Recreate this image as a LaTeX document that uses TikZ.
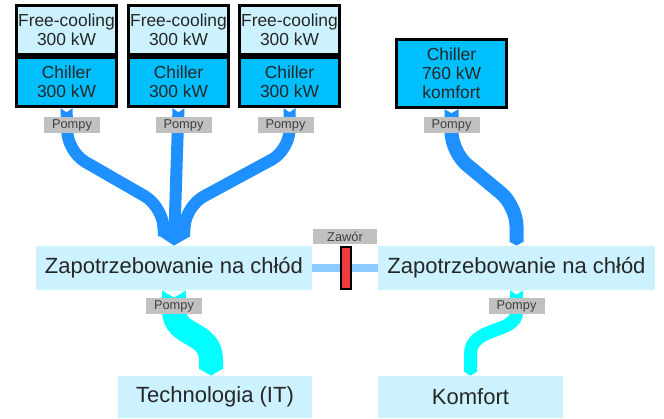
\documentclass[tikz,border=0pt]{standalone}
\usepackage{fontspec}
\setmainfont{Liberation Sans}
\usetikzlibrary{arrows.meta,backgrounds}
\definecolor{coolpale}{RGB}{204,242,255}
\definecolor{chillblue}{RGB}{0,191,255}
\definecolor{pipeblue}{RGB}{30,144,255}
\definecolor{pipecyan}{RGB}{0,255,255}
\definecolor{linkblue}{RGB}{140,202,255}
\definecolor{pompgray}{RGB}{192,192,192}
\definecolor{valvered}{RGB}{235,60,60}

\begin{document}
\begin{tikzpicture}[x=0.5pt,y=-0.5pt,
    fcbox/.style={draw, line width=1.5pt, fill=coolpale, minimum width=50pt, minimum height=24.5pt,
                  inner sep=0pt, align=center, text=black!85, font=\fontsize{8.7}{9.6}\selectfont},
    chbox/.style={fcbox, fill=chillblue},
    pompy/.style={fill=pompgray, minimum width=28pt, minimum height=8pt, inner sep=0pt,
                  text=black!75, font=\fontsize{6.4}{7}\selectfont},
    demand/.style={fill=coolpale, minimum height=22pt, inner sep=0pt, text=black!85,
                   font=\fontsize{11}{12}\selectfont},
    pipe/.style={line width=6pt, pipeblue, rounded corners=10pt},
    flow/.style={pipecyan, line width=12pt}]
  \useasboundingbox (0,0) rectangle (664,418);

  % chillers
  \node[fcbox] (fc1) at (66.5,30) {Free-cooling\\300 kW};
  \node[chbox] (ch1) at (66.5,82) {Chiller\\300 kW};
  \node[fcbox] (fc2) at (178.5,30) {Free-cooling\\300 kW};
  \node[chbox] (ch2) at (178.5,82) {Chiller\\300 kW};
  \node[fcbox] (fc3) at (289.5,30) {Free-cooling\\300 kW};
  \node[chbox] (ch3) at (289.5,82) {Chiller\\300 kW};
  \node[chbox, minimum width=55pt, minimum height=34pt] (chk) at (451.5,73.5) {Chiller\\760 kW\\komfort};

  % pumps
  \node[pompy] (p1) at (72,125) {Pompy};
  \node[pompy] (p2) at (183.5,125) {Pompy};
  \node[pompy] (p3) at (285.5,125) {Pompy};
  \node[pompy] (p4) at (451.5,125) {Pompy};
  \node[pompy] (p5) at (174,306) {Pompy};
  \node[pompy] (p6) at (516.5,306) {Pompy};

  % demand
  \node[demand, minimum width=138pt] (dem1) at (174,268) {Zapotrzebowanie na chłód};
  \node[demand, minimum width=138.5pt] (dem2) at (516.5,268) {Zapotrzebowanie na chłód};
  \node[pompy, minimum width=32pt, minimum height=7.5pt] (zaw) at (345,236.5) {Zawór};
  \node[draw, line width=1pt, fill=valvered, minimum width=5pt, minimum height=21pt, inner sep=0pt] (valve) at (346,268) {};
  \node[demand, minimum width=97pt, minimum height=21pt] (tech) at (215,397) {Technologia (IT)};
  \node[demand, minimum width=92.5pt, minimum height=21pt] (komf) at (470.5,397) {Komfort};

  \begin{pgfonlayer}{background}
    \draw[pipe] (ch1.south) -- (68,152) -- (162,206) -- (164,236);
    \draw[pipe] (ch3.south) -- (289.5,150) -- (186,206) -- (184,236);
    \draw[pipe, -{Triangle[width=16pt,length=5pt]}] (ch2.south) -- (dem1.north);
    \draw[pipe, line width=7pt, -{Triangle[width=7pt,length=2pt]}] (chk.south) -- (451.5,152) -- (516.5,206) -- (dem2.north);
    \draw[linkblue, line width=4pt] (dem1.east) -- (dem2.west);
    \draw[flow, -{Triangle[width=12pt,length=3.5pt]}] (dem1.south) -- (174,310)
      .. controls (174,338) and (211,330) .. (211,360) -- ([xshift=-2pt]tech.north);
    \draw[flow, line width=6.5pt, -{Triangle[width=6.5pt,length=2pt]}] (dem2.south) -- (516.5,312)
      .. controls (516.5,334) and (470.5,326) .. (470.5,354) -- (komf.north);
    % notches
    \foreach \n in {ch1,ch2,ch3}
      \fill[white] ([xshift=-3pt]\n.south) -- ([xshift=3pt]\n.south) -- ([yshift=-2pt]\n.south) -- cycle;
    \fill[white] ([xshift=-3.5pt]chk.south) -- ([xshift=3.5pt]chk.south) -- ([yshift=-2pt]chk.south) -- cycle;
    \fill[white] ([xshift=-6pt]dem1.south) -- ([xshift=6pt]dem1.south) -- ([yshift=-3.5pt]dem1.south) -- cycle;
    \fill[white] ([xshift=-3.25pt]dem2.south) -- ([xshift=3.25pt]dem2.south) -- ([yshift=-2pt]dem2.south) -- cycle;
  \end{pgfonlayer}
\end{tikzpicture}
\end{document}
